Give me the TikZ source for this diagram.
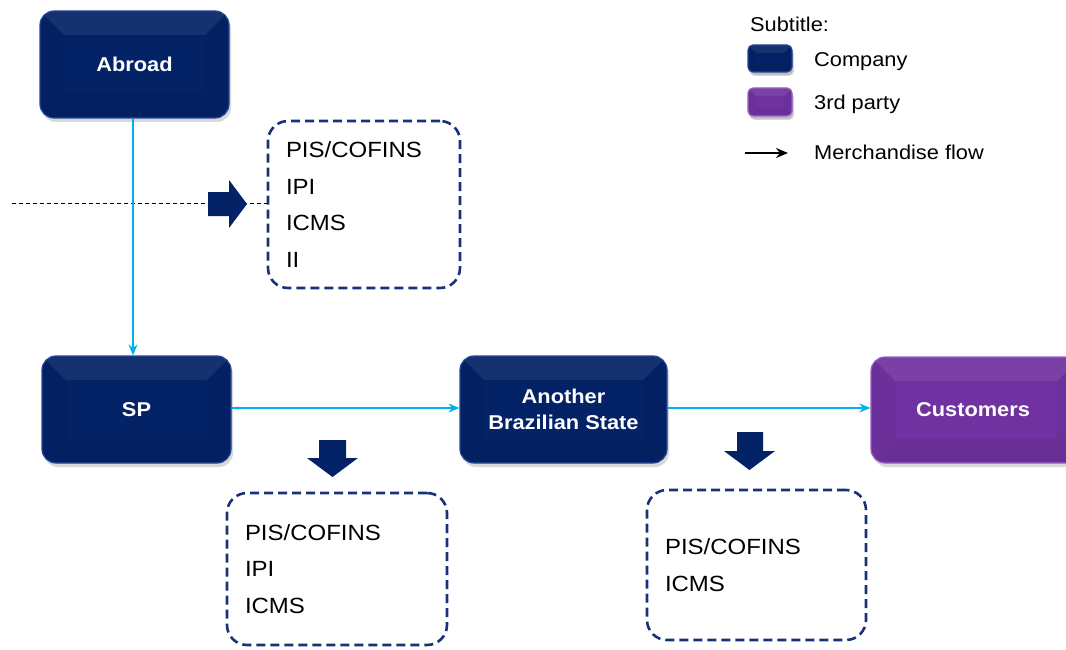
\documentclass[tikz,border=0pt]{standalone}
\usepackage{fontspec}
\setmainfont{Liberation Sans}[FakeStretch=1.09]
\usetikzlibrary{shadows,arrows.meta,calc}
\definecolor{navy}{RGB}{4,34,102}
\definecolor{navyedge}{RGB}{36,70,150}
\definecolor{purp}{RGB}{112,50,160}
\definecolor{purpedge}{RGB}{150,95,200}
\definecolor{dashblue}{RGB}{22,50,120}
\definecolor{flow}{RGB}{0,176,240}
\tikzset{
  bevel/.style={path picture={
    \begin{scope}[sharp corners]
    \fill[white,opacity=0.07] (path picture bounding box.north west) -- (path picture bounding box.north east)
      -- ($(path picture bounding box.north east)+(-#1,#1)$) -- ($(path picture bounding box.north west)+(#1,#1)$) -- cycle;
    \fill[black,opacity=0.03] (path picture bounding box.north west) -- ($(path picture bounding box.north west)+(#1,#1)$)
      -- ($(path picture bounding box.south west)+(#1,-#1)$) -- (path picture bounding box.south west) -- cycle;
    \fill[black,opacity=0.03] (path picture bounding box.north east) -- ($(path picture bounding box.north east)+(-#1,#1)$)
      -- ($(path picture bounding box.south east)+(-#1,-#1)$) -- (path picture bounding box.south east) -- cycle;
    \fill[black,opacity=0.06] (path picture bounding box.south west) -- (path picture bounding box.south east)
      -- ($(path picture bounding box.south east)+(-#1,-#1)$) -- ($(path picture bounding box.south west)+(#1,-#1)$) -- cycle;
    \end{scope}
  }},
  basebox/.style={rounded corners=14pt, line width=1.2pt, text=white,
    font=\fontsize{20}{26}\selectfont\bfseries, align=center, inner sep=0pt,
    drop shadow={shadow xshift=2pt,shadow yshift=-4pt,opacity=0.3}},
  companybox/.style={basebox, draw=navyedge, fill=navy, bevel=24},
  thirdbox/.style={basebox, draw=purpedge, fill=purp, bevel=24},
  taxbox/.style={draw=dashblue, line width=2.6pt, dash pattern=on 9pt off 5pt, rounded corners=20pt,
    font=\fontsize{22}{36.5}\selectfont, align=left, inner xsep=18pt, inner ysep=0pt, anchor=center},
  flowarrow/.style={draw=flow, line width=1.3pt, -{Stealth[length=11pt,width=9pt]}},
  fatarrow/.style={fill=navy, draw=none},
  legendtext/.style={font=\fontsize{20}{22}\selectfont, anchor=base west, inner sep=0pt},
}
\begin{document}
\begin{tikzpicture}[x=1pt,y=-1pt]
\useasboundingbox (0,0) rectangle (1066,650);
% main boxes
\node[companybox, minimum width=189pt, minimum height=107pt] (abroad) at (134.5,64.5) {Abroad};
\node[companybox, minimum width=189pt, minimum height=107pt] (sp) at (136.5,409.5) {SP};
\node[companybox, minimum width=207pt, minimum height=107pt] (another) at (563.5,409.5) {Another\\Brazilian State};
\node[thirdbox, minimum width=210pt, minimum height=106pt] (cust) at (976,410) {};
\node[text=white, font=\fontsize{20}{26}\selectfont\bfseries] (custlabel) at (973,410) {Customers};
% tax boxes
\node[taxbox, text width=156pt, minimum height=167pt] (tax1) at (364,204.5) {PIS/COFINS\\IPI\\ICMS\\II};
\node[taxbox, text width=184pt, minimum height=152pt] (tax2) at (337,569) {PIS/COFINS\\IPI\\ICMS};
\node[taxbox, text width=183pt, minimum height=150pt] (tax3) at (756.5,565) {PIS/COFINS\\ICMS};
% dashed border line
\coordinate (bl) at (12,203);
\draw[black, line width=0.9pt, dash pattern=on 4pt off 3pt] (bl) -- (tax1.west |- bl);
% flows
\draw[flowarrow] (abroad.south -| 133,0) -- (sp.north -| 133,0);
\draw[flowarrow] (sp.east |- 0,408) -- (another.west |- 0,408);
\draw[flowarrow] (another.east |- 0,408) -- (cust.west |- 0,408);
% fat arrows
\fill[fatarrow] (208,192) -- (229,192) -- (229,180) -- (247,204) -- (229,228) -- (229,216) -- (208,216) -- cycle;
\fill[fatarrow] (319,440) -- (346,440) -- (346,458) -- (358,458) -- (332.5,477) -- (307,458) -- (319,458) -- cycle;
\fill[fatarrow] (737,432) -- (763,432) -- (763,451) -- (775,451) -- (749.5,470) -- (724,451) -- (737,451) -- cycle;
% legend
\node[legendtext] (subt) at (750,32) {Subtitle:};
\node[companybox, rounded corners=5pt, minimum width=44pt, minimum height=27pt, bevel=8,
  drop shadow={shadow xshift=1pt,shadow yshift=-3pt,opacity=0.3}] (lcomp) at (770,58.5) {};
\node[legendtext] (lcompt) at (814,67) {Company};
\node[thirdbox, rounded corners=5pt, minimum width=44pt, minimum height=28pt, bevel=8,
  drop shadow={shadow xshift=1pt,shadow yshift=-3pt,opacity=0.3}] (lthird) at (770,102) {};
\node[legendtext] (lthirdt) at (814,110) {3rd party};
\coordinate (la1) at (745,153);
\coordinate (la2) at (788,153);
\draw[black, line width=1.6pt, -{Stealth[length=12pt,width=10pt]}] (la1) -- (la2);
\node[legendtext] (lflow) at (814,160) {Merchandise flow};
\end{tikzpicture}
\end{document}
